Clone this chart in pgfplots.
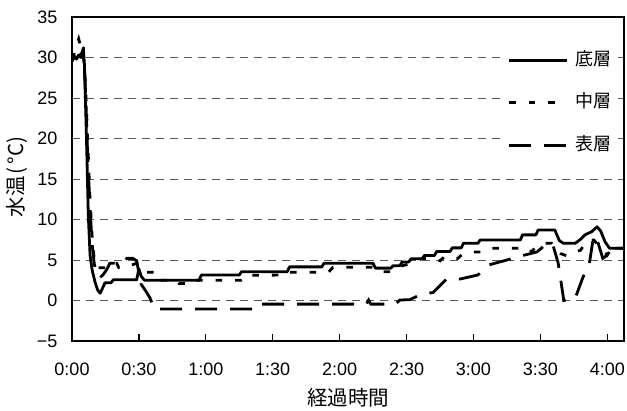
\documentclass[border=0pt]{standalone}
\usepackage{fontspec}
\setmainfont{Liberation Sans}
\newfontfamily\jp{Noto Sans CJK JP}
\usepackage{pgfplots}
\pgfplotsset{compat=1.18}
\newcommand{\hw}[1]{\makebox[0.5em][c]{#1}}
\begin{document}
\begin{tikzpicture}
\path[use as bounding box] (-72bp,-70bp) rectangle (555bp,341bp);
\begin{axis}[
 scale only axis, width=552bp, height=324bp,
 at={(0,0)}, anchor=south west,
 xmin=0, xmax=247.5, ymin=-5, ymax=35,
 xtick={0,30,...,240},
 xticklabels={0:00,0:30,1:00,1:30,2:00,2:30,3:00,3:30,4:00},
 ytick={-5,0,...,35},
 yticklabels={−5,0,5,10,15,20,25,30,35},
 /pgf/number format/assume math mode=true,
 tick align=inside, major tick length=7bp,
 xtick pos=bottom, ytick pos=left,
 ytick style={draw=none},
 ymajorgrids,
 grid style={dash pattern=on 8bp off 6bp, line width=0.9bp, color=black!65},
 axis line style={line width=1.2bp},
 xtick style={line width=1.2bp, black},
 ticklabel style={font=\fontsize{18bp}{21bp}\selectfont},
 xticklabel style={yshift=-18bp},
 yticklabel style={xshift=-11bp},
 xlabel={経過時間}, ylabel={水温\hw{(}\hw{°}\hw{C}\hw{)}},
 label style={font=\jp\fontsize{20.5bp}{23bp}\selectfont},
 xlabel style={at={(axis description cs:0.5,-0.176)}, anchor=center},
 ylabel style={at={(axis description cs:-0.0996,0.509)}, anchor=center},
 reverse legend,
 legend cell align=left,
 legend image code/.code={\draw[#1] (0bp,0bp) -- (58bp,0bp);},
 legend style={draw=none, fill=white, at={(axis description cs:0.9837,0.904)}, anchor=north east,
   font=\jp\fontsize{18bp}{21bp}\selectfont, inner sep=3bp, row sep=24.5bp, column sep=7bp,
   nodes={inner sep=0pt, text height=14bp, text depth=4bp}},
]
% 表層
\addplot[black, line width=2.8bp, dash pattern=on 22bp off 13bp] coordinates {
(0,29.7)(1,30.0)(2,29.9)(3,30.2)(4,30.4)(5,30.8)(5.5,29)(6.2,25)(7,18)(8,12)(9,7)(10,4.5)(11,3.3)(12.5,2.8)(14,3.2)(15.5,3.8)(17,4.6)(19,4.6)(21,4.4)(24.6,5.2)(27.3,5.2)(29,4.9)(30,3.4)(31,2.0)(33,1.2)(35,0.3)(36,-0.4)(37,-1.05)(82,-1.05)(83,-0.45)(132,-0.45)(133,0.05)(134,-0.45)(145,-0.45)(147,0.06)(151.5,0.1)(156,0.7)(162,1.0)(168,2.65)(174,2.65)(182,3.15)(187,4.4)(195,5.0)(200,5.4)(208.5,6.0)(213,7.05)(215.7,6.8)(218,4.6)(219,2.8)(220.5,0.0)(225.5,0.2)(229,2.8)(232,4.6)(233.5,7.3)(234.5,8.0)(236,7.0)(238,5.2)(240,5.6)(241.5,6.45)(247.5,6.45)
};
% 中層
\addplot[black, line width=2.8bp, dash pattern=on 6.5bp off 13bp] coordinates {
(0,29.8)(1,30.5)(2,31.5)(3,32.3)(4,31.2)(5,30.5)(6,27)(7,20)(8,13)(9,8)(10,5)(11,4.05)(17,4.05)(18.5,4.6)(20,4.6)(21,4.05)(24,4.05)(26,4.3)(29,4.6)(31,4.3)(33,3.5)(37,3.5)(38,2.5)(47,2.5)(48,2.1)(52,2.1)(53,2.5)(76,2.5)(78,3.1)(96,3.15)(97,3.5)(115,3.5)(117,4.1)(135,4.1)(137,3.55)(144,3.55)(147,4.2)(152,4.6)(157,5.2)(160,5.2)(165,4.9)(167,5.4)(173,5.2)(175,5.7)(178,6.0)(184,6.0)(187,6.45)(205,6.45)(206,6.0)(208.5,6.8)(212,7.06)(215,7.06)(216,6.45)(219,5.8)(222,5.5)(225,6.0)(228,6.2)(231,7.47)(234,7.47)(236,6.8)(238,6.2)(240,5.6)(242,6.45)(247.5,6.45)
};
% 底層
\addplot[black, line width=2.8bp, line join=round] coordinates {
(0,29.5)(1,30.2)(2,29.8)(3,30.3)(4,30.0)(5.1,31.2)(5.6,29)(6.5,20)(7.3,10.6)(8.1,5.6)(9,3.8)(10.3,2.3)(11.5,1.3)(12.6,0.9)(13.5,1.4)(14.8,2.2)(17.5,2.2)(18.5,2.55)(29,2.55)(30,3.9)(31,3.0)(32.5,2.5)(57,2.5)(58,3.15)(75,3.15)(76,3.55)(96.5,3.55)(97.5,4.15)(112,4.15)(113,4.6)(135,4.6)(136,4.0)(143,4.0)(144,4.3)(147,4.3)(148,4.75)(151,4.75)(152,5.15)(157,5.15)(158,5.55)(162.5,5.55)(163.5,6.05)(169.5,6.05)(170.5,6.5)(174.5,6.5)(175.5,7.06)(182,7.06)(183,7.47)(201,7.47)(202,8.1)(208,8.1)(209,8.7)(216.5,8.7)(218.5,7.4)(220.3,7.06)(225.6,7.06)(228,7.55)(230,8.1)(233,8.5)(235.4,9.1)(237,8.6)(239,7.25)(241,6.45)(247.5,6.45)
};
\legend{表層,中層,底層}
\end{axis}
\end{tikzpicture}
\end{document}
